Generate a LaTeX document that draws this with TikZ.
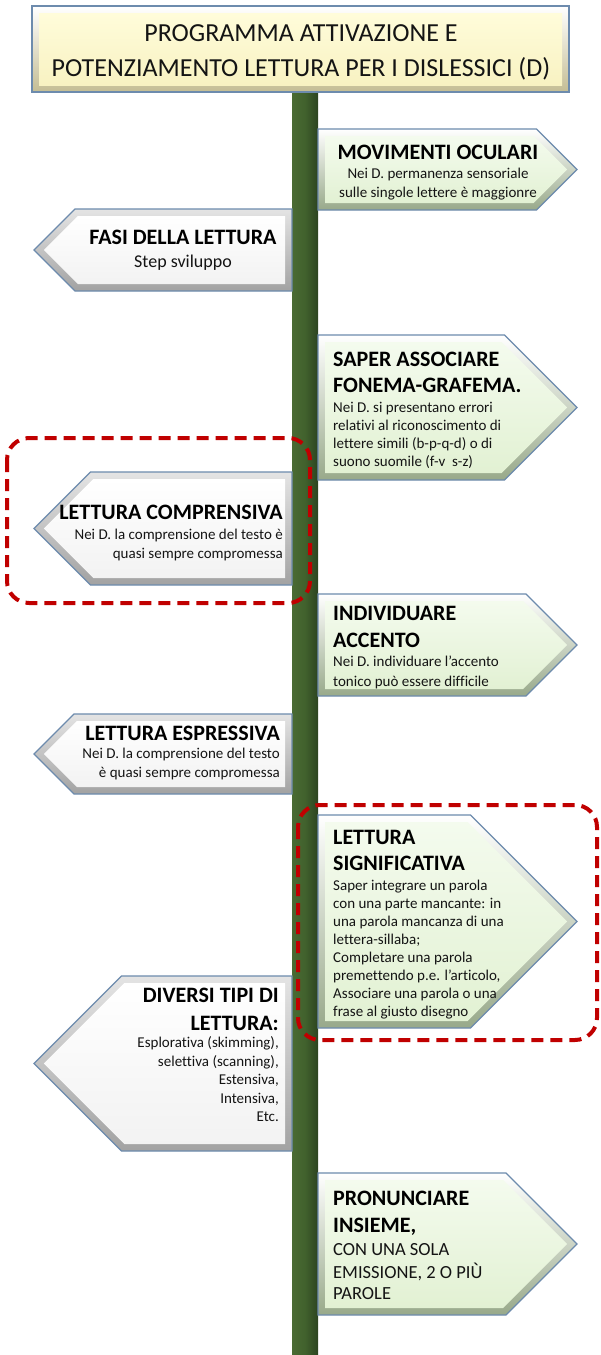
\documentclass[tikz,border=0pt]{standalone}
\usepackage{fontspec}
\setmainfont{Carlito}[Ligatures={NoCommon}]
\definecolor{poleL}{HTML}{4A6B33}
\definecolor{poleM}{HTML}{41612D}
\definecolor{poleR}{HTML}{2C4420}
\definecolor{edgeblue}{HTML}{6D8BAD}
\definecolor{redd}{HTML}{C00000}
\definecolor{greenface1}{HTML}{F4FBEE}
\definecolor{greenface2}{HTML}{E2F1D3}
\definecolor{greenbev2}{HTML}{98A98A}
\definecolor{whitebev1}{HTML}{E4E4E4}
\definecolor{whitebev2}{HTML}{A2A2A2}
\definecolor{yelface1}{HTML}{FFFCDA}
\definecolor{yelface2}{HTML}{F8F2C2}
\definecolor{yelbev2}{HTML}{C4BD94}
\definecolor{txt}{HTML}{141414}
\tikzset{
  green bevel/.style={top color=white, bottom color=greenbev2},
  green face/.style={top color=greenface1, bottom color=greenface2},
  white bevel/.style={top color=whitebev1, bottom color=whitebev2},
  white face/.style={top color=white, bottom color=white!95!black},
  signborder/.style={draw=edgeblue, line width=1.1pt},
  hd/.style={font=\fontsize{22}{26}\selectfont\bfseries, inner sep=0pt, text=black},
  sb/.style={font=\fontsize{15}{18}\selectfont, inner sep=0pt, text=txt},
  sbl/.style={font=\fontsize{18}{22}\selectfont, inner sep=0pt, text=txt},
  sbc/.style={font=\fontsize{18.5}{22}\selectfont, inner sep=0pt, text=txt},
  ttl/.style={font=\fontsize{26}{31}\selectfont, inner sep=0pt, text=txt},
  redbox/.style={draw=redd, line width=4pt, dash pattern=on 12pt off 7pt, rounded corners=22pt}
}
\newcommand\signR[3]{%
  \pgfmathsetmacro\sT{#2}\pgfmathsetmacro\sB{#3}%
  \pgfmathsetmacro\sM{(#2+#3)/2}%
  \pgfmathsetmacro\sS{577-(#3-#2)/2}%
  \path[#1 bevel] (318,\sT) -- (\sS,\sT) -- (577,\sM) -- (\sS,\sB) -- (318,\sB) -- cycle;
  \path[#1 face] (325,\sT+7) -- (\sS-2.9,\sT+7) -- (567.1,\sM) -- (\sS-2.9,\sB-7) -- (325,\sB-7) -- cycle;
  \draw[signborder] (318,\sT) -- (\sS,\sT) -- (577,\sM) -- (\sS,\sB) -- (318,\sB) -- cycle;
}
\newcommand\signL[3]{%
  \pgfmathsetmacro\sT{#2}\pgfmathsetmacro\sB{#3}%
  \pgfmathsetmacro\sM{(#2+#3)/2}%
  \pgfmathsetmacro\sS{34+(#3-#2)/2}%
  \path[#1 bevel] (292,\sT) -- (\sS,\sT) -- (34,\sM) -- (\sS,\sB) -- (292,\sB) -- cycle;
  \path[#1 face] (285,\sT+7) -- (\sS+2.9,\sT+7) -- (43.9,\sM) -- (\sS+2.9,\sB-7) -- (285,\sB-7) -- cycle;
  \draw[signborder] (292,\sT) -- (\sS,\sT) -- (34,\sM) -- (\sS,\sB) -- (292,\sB) -- cycle;
}
\begin{document}
\begin{tikzpicture}[x=1pt,y=-1pt]
\useasboundingbox (0,0) rectangle (600,1355);
\fill[white] (0,0) rectangle (600,1355);

% pole
\shade[left color=poleL, right color=poleR, middle color=poleM] (292,90) rectangle (318,1355);

% title box
\path[top color=white, bottom color=yelbev2] (32,6) rectangle (569,92);
\path[top color=yelface1, bottom color=yelface2] (39,13) rectangle (562,85);
\draw[signborder] (32,6) rectangle (569,92);
\node[ttl, anchor=base] (t1) at (301,41) {PROGRAMMA ATTIVAZIONE E};
\node[ttl, anchor=base] (t2) at (301,76) {POTENZIAMENTO LETTURA PER I DISLESSICI (D)};

% signs
\signR{green}{129}{210}
\signL{white}{209}{291}
\signR{green}{335}{480}
\signL{white}{472}{585}
\signR{green}{594}{696}
\signL{white}{714}{794}
\signR{green}{815}{1028}
\signL{white}{976}{1151}
\signR{green}{1173}{1315}

% Movimenti oculari
\node[hd, anchor=base] (m1) at (438,159) {MOVIMENTI OCULARI};
\node[sb, anchor=base] (m2) at (438,178.5) {Nei D. permanenza sensoriale};
\node[sb, anchor=base] (m3) at (438,197.5) {sulle singole lettere è maggionre};

% Fasi della lettura
\node[hd, anchor=base] (f1) at (183,244) {FASI DELLA LETTURA};
\node[sbl, anchor=base] (f2) at (183,267.5) {Step sviluppo};

% Saper associare
\node[hd, anchor=base west] (s1) at (333,366) {SAPER ASSOCIARE};
\node[hd, anchor=base west] (s2) at (333,392) {FONEMA-GRAFEMA.};
\node[sb, anchor=base west] (s3) at (333,412) {Nei D. si presentano errori};
\node[sb, anchor=base west] (s4) at (333,430) {relativi al riconoscimento di};
\node[sb, anchor=base west] (s5) at (333,448) {lettere simili (b-p-q-d) o di};
\node[sb, anchor=base west] (s6) at (333,466) {suono suomile (f-v\ \ s-z)};

% Lettura comprensiva
\node[hd, anchor=base east] (c1) at (283,519) {LETTURA COMPRENSIVA};
\node[sb, anchor=base east] (c2) at (283,539.5) {Nei D. la comprensione del testo è};
\node[sb, anchor=base east] (c3) at (283,558.5) {quasi sempre compromessa};

% Individuare accento
\node[hd, anchor=base west] (i1) at (333,620) {INDIVIDUARE};
\node[hd, anchor=base west] (i2) at (333,647) {ACCENTO};
\node[sb, anchor=base west] (i3) at (333,666.5) {Nei D. individuare l’accento};
\node[sb, anchor=base west] (i4) at (333,686) {tonico può essere difficile};

% Lettura espressiva
\node[hd, anchor=base east] (e1) at (280,740) {LETTURA ESPRESSIVA};
\node[sb, anchor=base east] (e2) at (280,758.5) {Nei D. la comprensione del testo};
\node[sb, anchor=base east] (e3) at (280,777.5) {è quasi sempre compromessa};

% Lettura significativa
\node[hd, anchor=base west] (g1) at (333,844) {LETTURA};
\node[hd, anchor=base west] (g2) at (333,870) {SIGNIFICATIVA};
\node[sb, anchor=base west] (g3) at (333,890.5) {Saper integrare un parola};
\node[sb, anchor=base west] (g4) at (333,908.5) {con una parte mancante: in};
\node[sb, anchor=base west] (g5) at (333,926.5) {una parola mancanza di una};
\node[sb, anchor=base west] (g6) at (333,944.5) {lettera-sillaba;};
\node[sb, anchor=base west] (g7) at (333,962.5) {Completare una parola};
\node[sb, anchor=base west] (g8) at (333,980.5) {premettendo p.e. l’articolo,};
\node[sb, anchor=base west] (g9) at (333,998.5) {Associare una parola o una};
\node[sb, anchor=base west] (g10) at (333,1016.5) {frase al giusto disegno};

% Diversi tipi di lettura
\node[hd, anchor=base east] (d1) at (279,1002) {DIVERSI TIPI DI};
\node[hd, anchor=base east] (d2) at (279,1030) {LETTURA:};
\node[sb, anchor=base east] (d3) at (279,1047.5) {Esplorativa (skimming),};
\node[sb, anchor=base east] (d4) at (279,1066) {selettiva (scanning),};
\node[sb, anchor=base east] (d5) at (279,1084.5) {Estensiva,};
\node[sb, anchor=base east] (d6) at (279,1103) {Intensiva,};
\node[sb, anchor=base east] (d7) at (279,1121.5) {Etc.};

% Pronunciare insieme
\node[hd, anchor=base west] (p1) at (333,1205) {PRONUNCIARE};
\node[hd, anchor=base west] (p2) at (333,1232) {INSIEME,};
\node[sbc, anchor=base west] (p3) at (333,1255) {CON UNA SOLA};
\node[sbc, anchor=base west] (p4) at (333,1278) {EMISSIONE, 2 O PIÙ};
\node[sbc, anchor=base west] (p5) at (333,1299) {PAROLE};

% red dashed highlight boxes
\draw[redbox] (7,438) rectangle (310,603);
\draw[redbox] (298,805) rectangle (597,1040);
\end{tikzpicture}
\end{document}
